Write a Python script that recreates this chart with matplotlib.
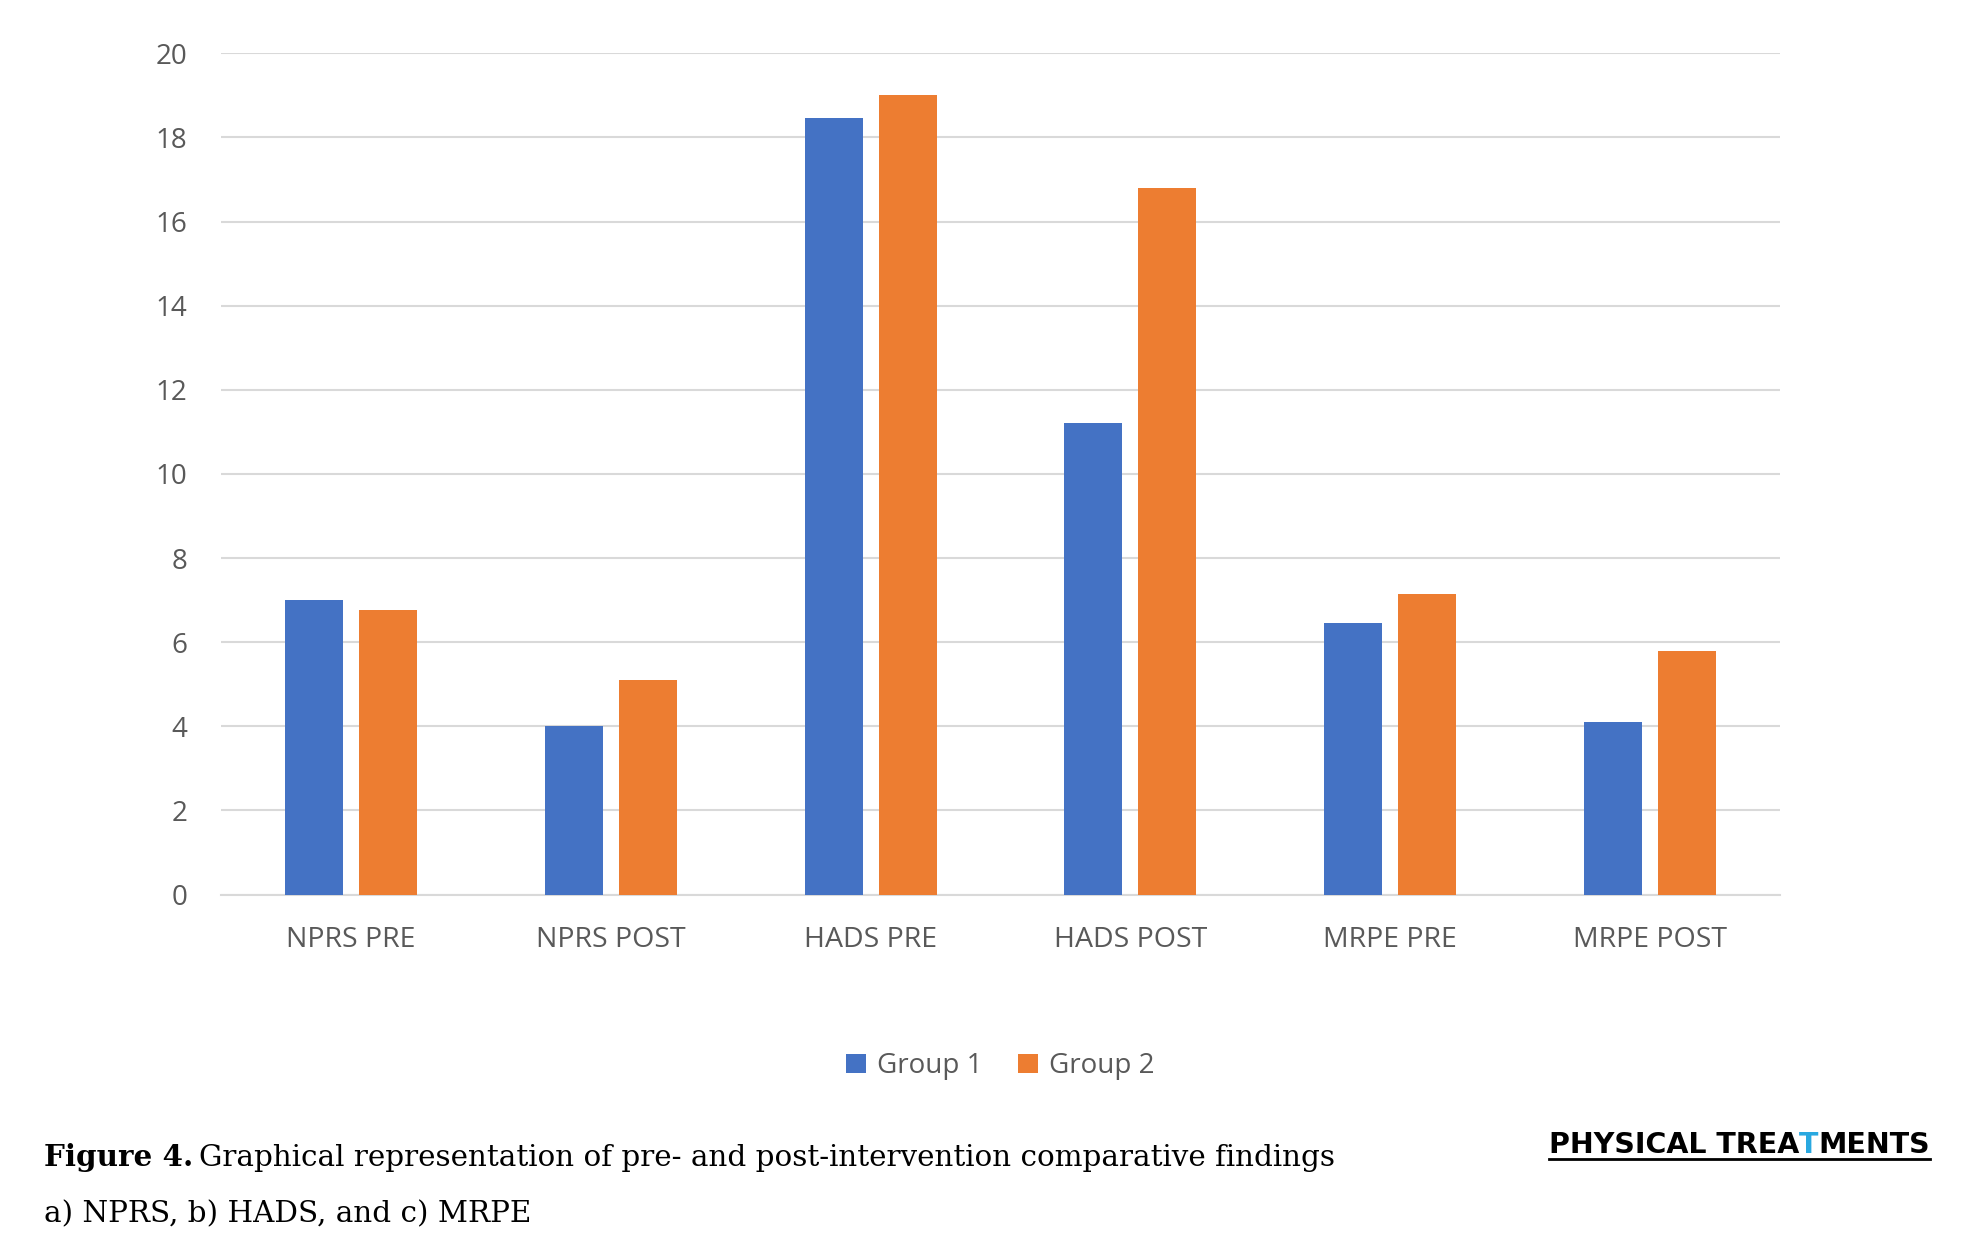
import matplotlib.pyplot as plt
import numpy as np

categories = ['NPRS PRE', 'NPRS POST', 'HADS PRE', 'HADS POST', 'MRPE PRE', 'MRPE POST']
group1 = [7.0, 4.0, 18.45, 11.2, 6.45, 4.1]
group2 = [6.77, 5.1, 19.0, 16.8, 7.15, 5.8]
series_names = ['Group 1', 'Group 2']

blue = '#4472C4'
orange = '#ED7D31'
grey_text = '#595959'

fig = plt.figure(figsize=(19.71, 12.53), dpi=100)
ax = fig.add_axes([0.1121, 0.2861, 0.7910, 0.6714])

x = np.arange(len(categories))
w = 0.223
off = 0.1424
ax.bar(x - off, group1, width=w, color=blue, label=series_names[0], zorder=3)
ax.bar(x + off, group2, width=w, color=orange, label=series_names[1], zorder=3)

ax.set_xlim(-0.5, len(categories) - 0.5)
ax.set_ylim(0, 20)
ax.set_yticks(range(0, 21, 2))
ax.set_xticks(x)
ax.set_xticklabels(categories)
ax.yaxis.grid(True, color='#D9D9D9', linewidth=1.5, zorder=0)
ax.set_axisbelow(True)
for s in ['top', 'right', 'left']:
    ax.spines[s].set_visible(False)
ax.spines['bottom'].set_color('#D9D9D9')
ax.spines['bottom'].set_linewidth(1.5)
ax.tick_params(axis='both', length=0, labelsize=20, labelcolor=grey_text)
ax.tick_params(axis='y', pad=24)
ax.tick_params(axis='x', pad=23)
for lab in ax.get_yticklabels():
    lab.set_fontfamily('Open Sans')
for lab in ax.get_xticklabels():
    lab.set_fontfamily('Open Sans')
    lab.set_fontsize(20.5)

fig.legend(loc='center', bbox_to_anchor=(0.5075, 0.149), ncol=2, frameon=False,
           prop={'family': 'Open Sans', 'size': 20}, labelcolor=grey_text,
           handlelength=0.72, handleheight=0.72, handletextpad=0.4, columnspacing=1.3)

# caption
cap_font = 'DejaVu Serif'
cap_size = 21.2
cap = fig.text(0.0223, 1 - 1166 / 1253, 'Figure 4.', fontsize=cap_size, fontweight='bold',
               family=cap_font, va='baseline')
fig.canvas.draw()
ext = cap.get_window_extent()
fig.text(ext.x1 / fig.bbox.width + 0.003, 1 - 1166 / 1253,
         'Graphical representation of pre- and post-intervention comparative findings',
         fontsize=cap_size, family=cap_font, va='baseline')
fig.text(0.0223, 1 - 1222 / 1253, 'a) NPRS, b) HADS, and c) MRPE',
         fontsize=cap_size, family=cap_font, va='baseline')

# journal logo
logo_y = 1 - 1153 / 1253
t1 = fig.text(1549 / 1971, logo_y, 'PHYSICAL TREA', fontsize=20.5, fontweight='bold',
              family='DejaVu Sans', va='baseline')
fig.canvas.draw()
e1 = t1.get_window_extent()
t2 = fig.text(e1.x1 / fig.bbox.width, logo_y, 'T', fontsize=20.5, fontweight='bold',
              family='DejaVu Sans', va='baseline', color='#29A8E0')
fig.canvas.draw()
e2 = t2.get_window_extent()
t3 = fig.text(e2.x1 / fig.bbox.width, logo_y, 'MENTS', fontsize=20.5, fontweight='bold',
              family='DejaVu Sans', va='baseline')
fig.canvas.draw()
e3 = t3.get_window_extent()
fig.add_artist(plt.Line2D([1549 / 1971, e3.x1 / fig.bbox.width],
                          [1 - 1159 / 1253, 1 - 1159 / 1253],
                          transform=fig.transFigure, color='black', linewidth=2))

fig.savefig('out.png', dpi=100)
